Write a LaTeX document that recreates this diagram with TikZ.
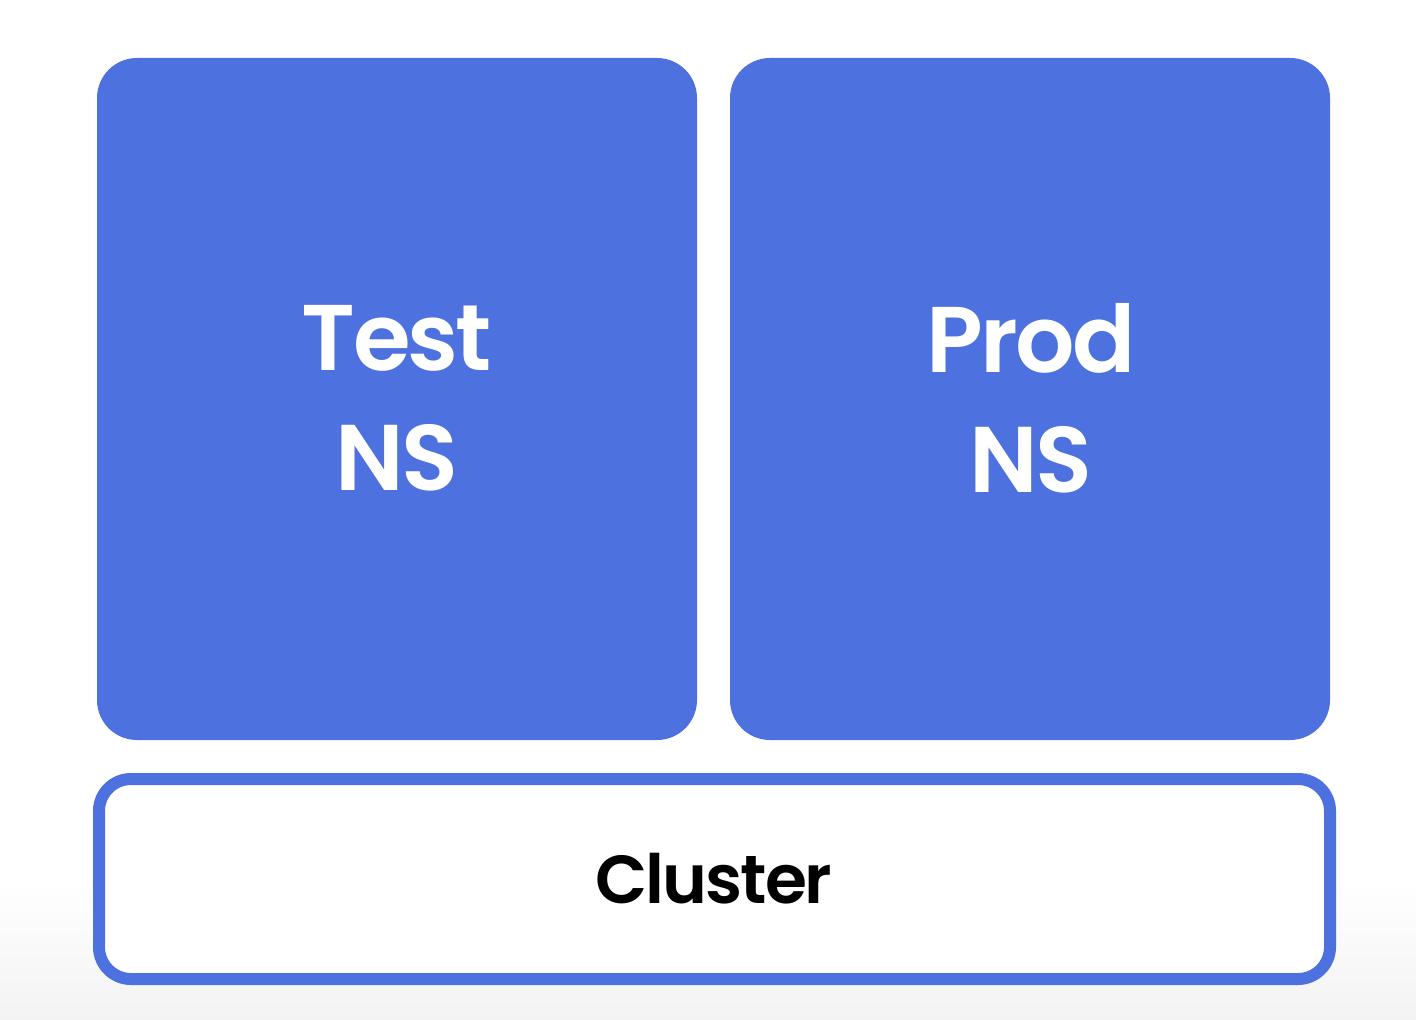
\documentclass[tikz,border=0pt]{standalone}
\usepackage{fontspec}
\setmainfont{Poppins SemiBold}[LetterSpace=-3]
\definecolor{nsblue}{RGB}{77,114,224}
\definecolor{bggray}{RGB}{243,243,243}
\begin{document}
\begin{tikzpicture}[x=0.75pt,y=-0.75pt,
  nsbox/.style={fill=nsblue,draw=none,rounded corners=30pt},
  nslabel/.style={text=white,font=\fontsize{70}{90}\selectfont,align=center},
  clusterbox/.style={draw=nsblue,line width=9pt,fill=white,rounded corners=24pt}]
\useasboundingbox (0,0) rectangle (1416,1020);
\fill[white] (0,0) rectangle (1416,1020);
\shade[top color=white,bottom color=bggray] (0,880) rectangle (1416,1020);
\fill[nsbox] (97,58) rectangle (697,740);
\fill[nsbox] (730,58) rectangle (1330,740);
\node[nslabel] (test) at (397,398) {Test\\NS};
\node[nslabel] (prod) at (1031,398) {Prod\\NS};
\draw[clusterbox] (99,779) rectangle (1330,979);
\node[font=\fontsize{51}{60}\selectfont,text=black] (cluster) at (714,879) {Cluster};
\end{tikzpicture}
\end{document}
